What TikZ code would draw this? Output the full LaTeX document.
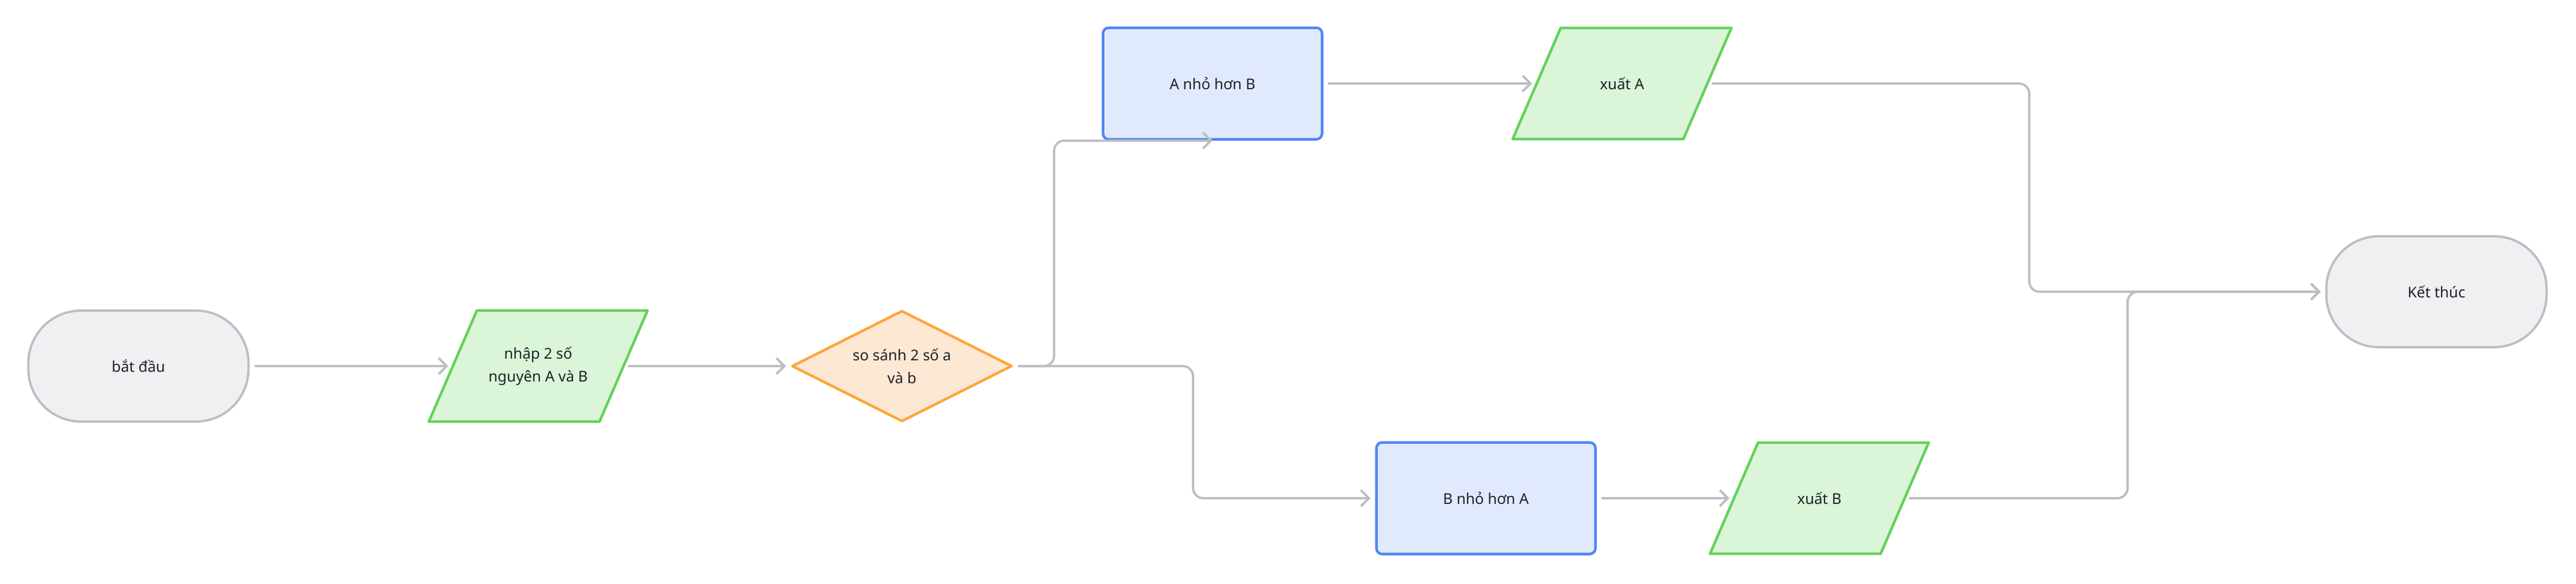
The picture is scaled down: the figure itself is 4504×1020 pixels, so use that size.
\documentclass[tikz,border=0pt]{standalone}
\usepackage{fontspec}
\setmainfont{Noto Sans}
\usetikzlibrary{shapes.geometric,arrows.meta,calc,backgrounds}
\definecolor{txt}{HTML}{1F2329}
\definecolor{connc}{HTML}{BCBEC4}
\definecolor{termfill}{HTML}{EFF0F2}
\definecolor{termline}{HTML}{BCBEC4}
\definecolor{iofill}{HTML}{DAF5D7}
\definecolor{ioline}{HTML}{63D15A}
\definecolor{procfill}{HTML}{E1E9FD}
\definecolor{procline}{HTML}{4F86F7}
\definecolor{decfill}{HTML}{FDE8D3}
\definecolor{decline}{HTML}{FFA53A}
\newcommand\drawio[1]{%
  \begin{pgfonlayer}{background}
    \path[iodraw] ($(#1.north west)+(42,0)$) -- ($(#1.north east)+(42,0)$)
      -- ($(#1.south east)+(-42,0)$) -- ($(#1.south west)+(-42,0)$) -- cycle;
  \end{pgfonlayer}}
\begin{document}
\begin{tikzpicture}[x=1pt,y=-1pt,
  lbl/.style={font=\fontsize{26}{40}\selectfont, text=txt, align=center, inner sep=0pt},
  term/.style={lbl, rectangle, rounded corners=92pt, minimum width=385pt, minimum height=194pt,
    draw=termline, fill=termfill, line width=4pt},
  iobox/.style={lbl, rectangle, minimum width=298pt, minimum height=194pt},
  iodraw/.style={draw=ioline, fill=iofill, line width=4.5pt, line join=round},
  proc/.style={lbl, rectangle, rounded corners=10pt, minimum width=383pt, minimum height=195pt,
    draw=procline, fill=procfill, line width=4.5pt},
  decis/.style={lbl, diamond, aspect=2, minimum width=385pt, minimum height=194pt,
    draw=decline, fill=decfill, line width=4.5pt, line join=round},
  conn/.style={draw=connc, line width=4pt, rounded corners=18pt,
    -{Straight Barb[length=14pt,width=28pt]}, shorten <=8pt}
]
\useasboundingbox (0,0) rectangle (4504,1020);

\node[term] (start) at (242,640) {bắt đầu};
\node[iobox] (in) at (941,640) {nhập 2 số\\nguyên A và B};
\drawio{in}
\node[decis] (dec) at (1577,640) {so sánh 2 số a\\và b};
\node[proc] (A) at (2120,146) {A nhỏ hơn B};
\node[iobox] (outA) at (2836,146) {xuất A};
\drawio{outA}
\node[proc] (B) at (2598,871) {B nhỏ hơn A};
\node[iobox] (outB) at (3181,871) {xuất B};
\drawio{outB}
\node[term] (end) at (4260,510) {Kết thúc};

\coordinate (cA) at (1843,146);
\coordinate (cB) at (2086,871);
\coordinate (jA) at (3548,510);
\coordinate (jB) at (3720,510);

\draw[conn, shorten >=8pt] (start.east) -- (in.west);
\draw[conn, shorten >=8pt] (in.east) -- (dec.west);
\draw[conn] (dec.east) -| (cA |- A.south) -- (A.south);
\draw[conn, shorten >=8pt] (dec.east) -| (cB |- B.west) -- (B.west);
\draw[conn, shorten >=8pt] (A.east) -- (outA.west);
\draw[conn, shorten >=8pt] (B.east) -- (outB.west);
\draw[conn, shorten >=8pt] (outA.east) -| (jA) -- (end.west);
\draw[conn, shorten >=8pt] (outB.east) -| (jB) -- (end.west);
\end{tikzpicture}
\end{document}
